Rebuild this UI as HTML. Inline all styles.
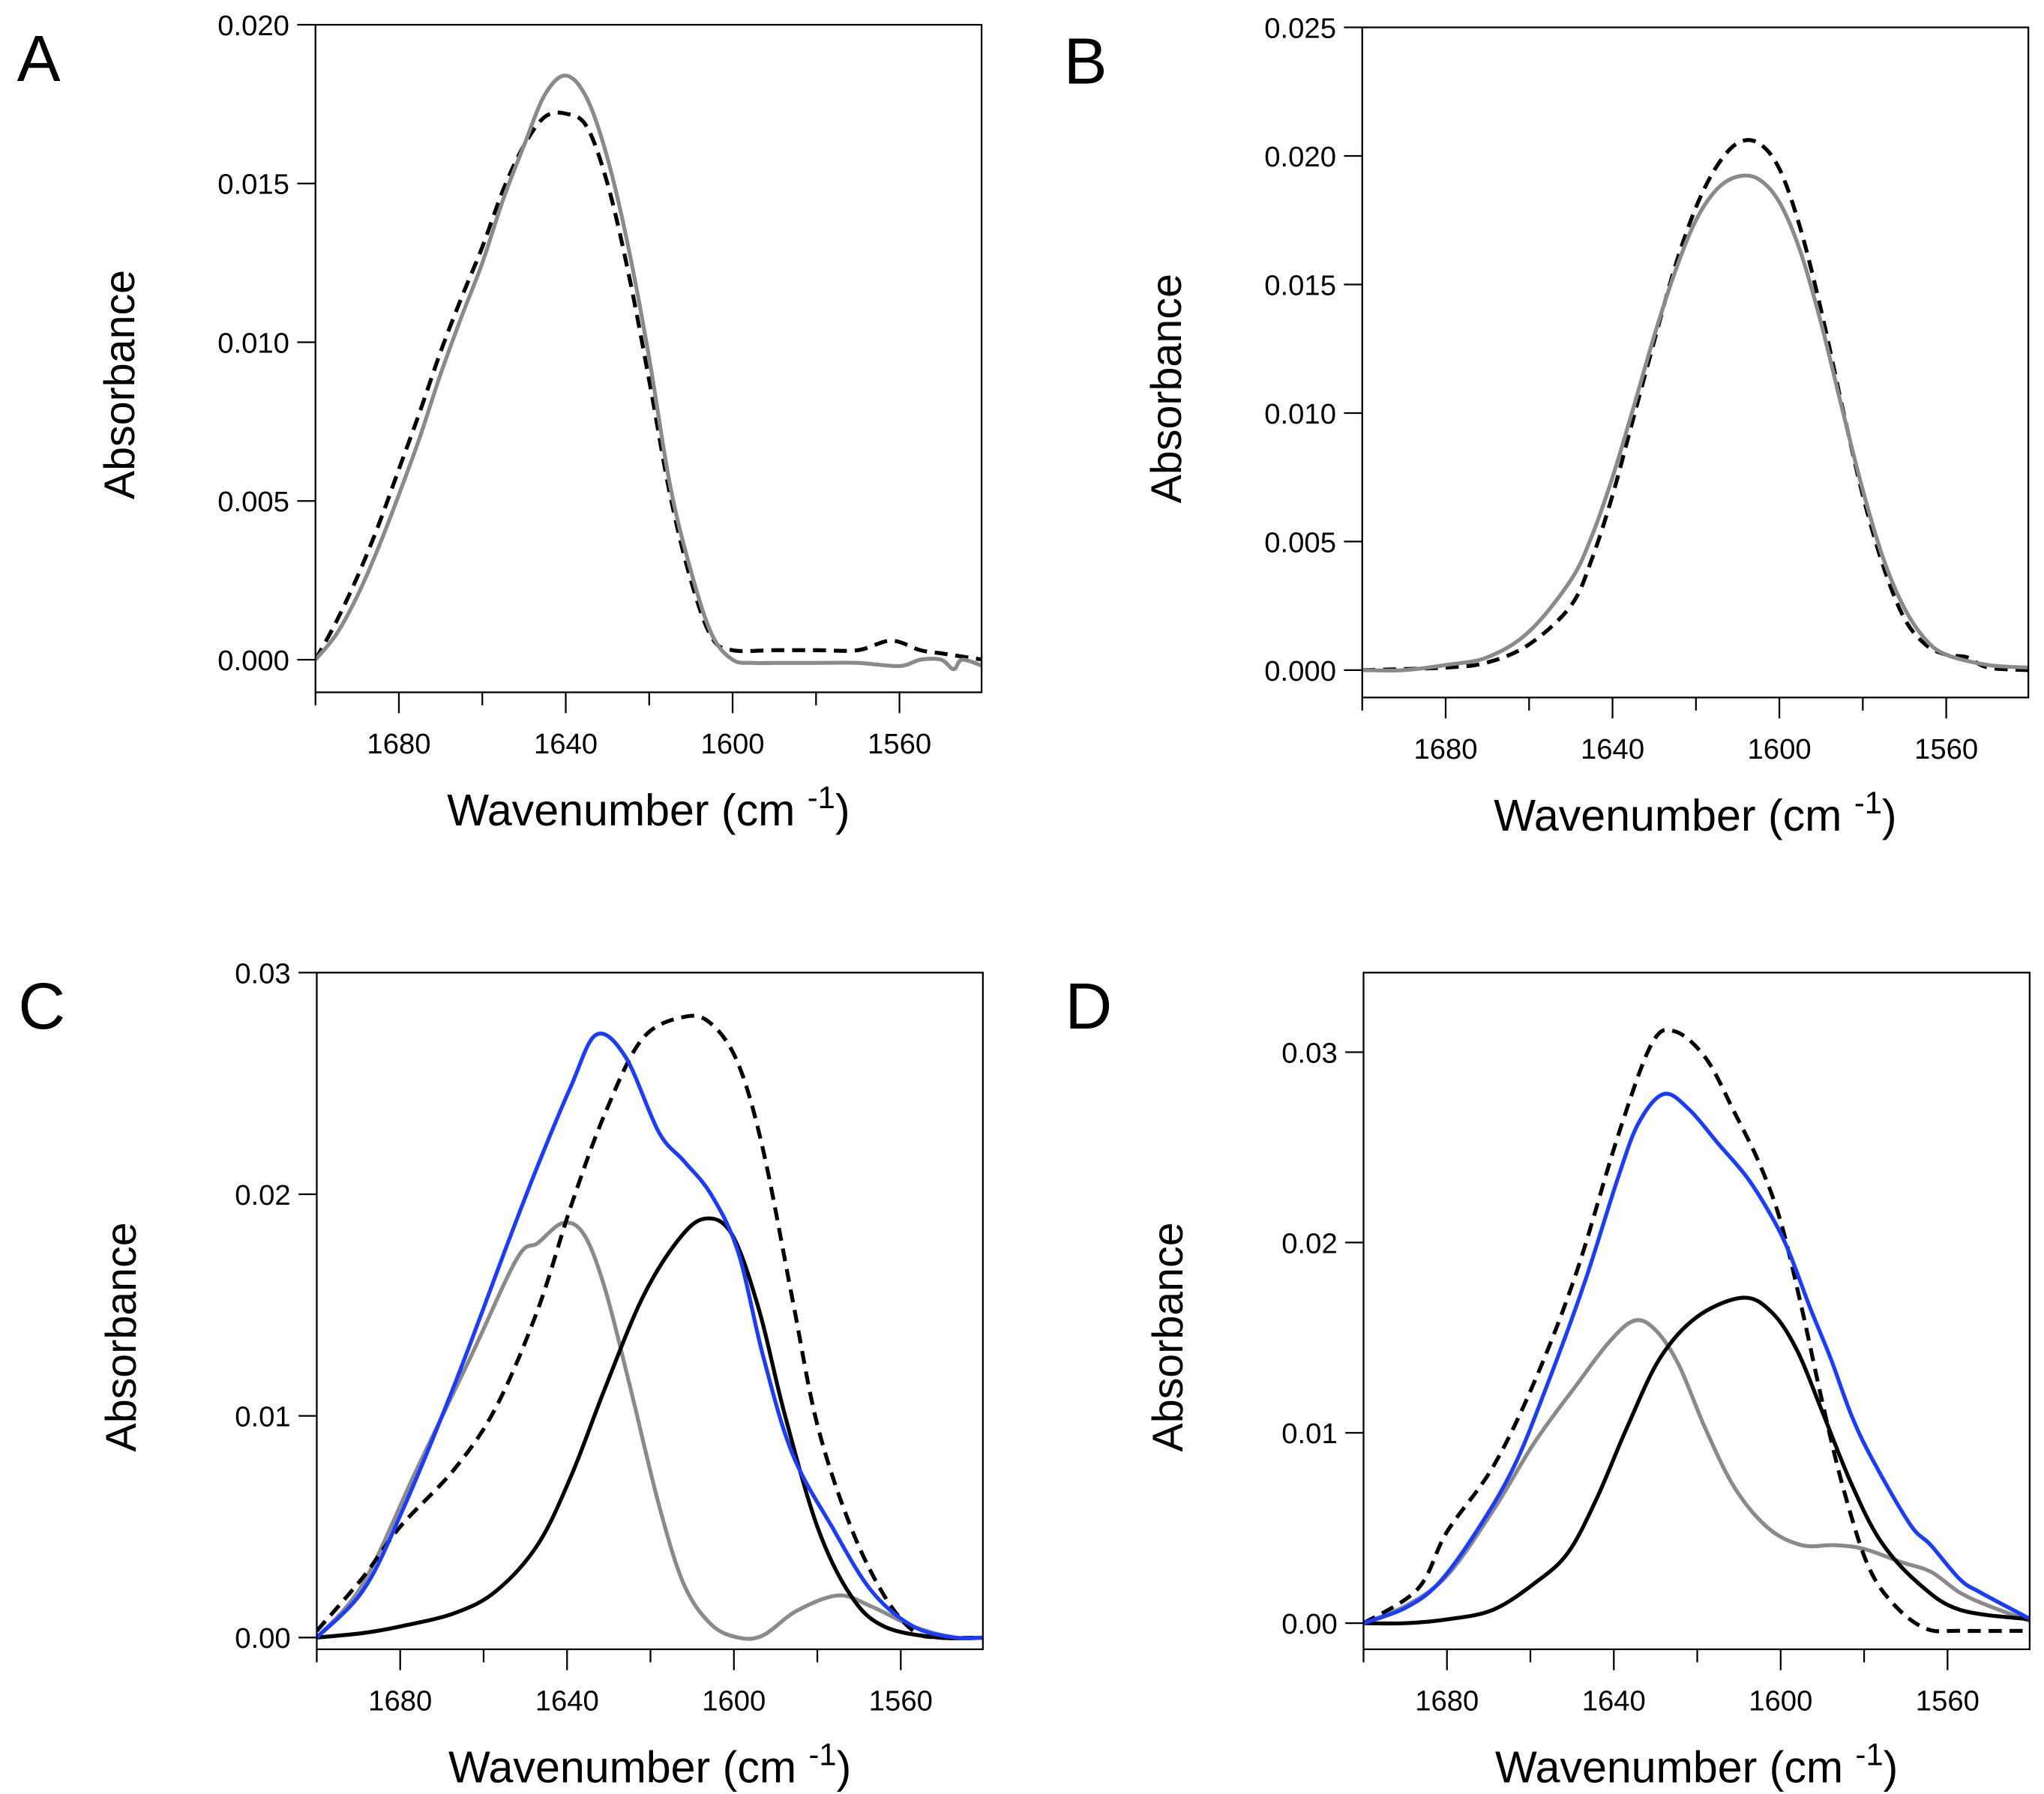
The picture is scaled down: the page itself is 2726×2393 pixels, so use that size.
<!DOCTYPE html>
<html><head><meta charset="utf-8"><style>
html,body{margin:0;padding:0;background:#fff}
svg{display:block}
text{font-family:"Liberation Sans",Arial,sans-serif;fill:#000}
</style></head><body>
<svg id="fig" width="2726" height="2393" viewBox="0 0 1568 1376" preserveAspectRatio="none" xmlns="http://www.w3.org/2000/svg"></svg>
<script>
// ---- data (wavenumber cm-1, absorbance) ----
const aGrayX=[1700,1695,1690,1685,1680,1675,1670,1665,1660,1655,1650,1645,1640,1635,1630,1625,1620,1615,1610,1605,1600,1595,1590,1580,1570,1560,1555,1550,1547,1545,1540];
const aGrayY=[0,0.0008,0.002,0.0035,0.0052,0.007,0.009,0.0108,0.0125,0.0145,0.0162,0.0178,0.0184,0.0177,0.0158,0.013,0.0095,0.0055,0.0028,0.0008,0,-0.0001,-0.0001,-0.0001,-0.0001,-0.0002,0,0,-0.0003,0,-0.0002];
const aDashX=[1700,1695,1690,1685,1680,1675,1670,1665,1660,1655,1650,1645,1640,1635,1630,1625,1620,1615,1610,1605,1600,1590,1580,1570,1562,1555,1550,1540];
const aDashY=[0,0.0012,0.0026,0.0042,0.006,0.0078,0.0097,0.0114,0.013,0.0148,0.0162,0.0171,0.0172,0.0168,0.015,0.0122,0.0088,0.0052,0.0025,0.0007,0.0003,0.0003,0.0003,0.0003,0.0006,0.0003,0.0002,0];
const bGrayX=[1700,1690,1680,1670,1660,1650,1645,1640,1635,1630,1625,1620,1615,1610,1605,1600,1595,1590,1585,1580,1575,1570,1565,1560,1550,1540];
const bGrayY=[0,0,0.0002,0.0005,0.0015,0.0035,0.0052,0.0075,0.0102,0.013,0.0155,0.0175,0.0187,0.0192,0.0191,0.0182,0.0163,0.0135,0.0102,0.007,0.0043,0.0024,0.0012,0.0006,0.0002,0.0001];
const bDashX=[1700,1680,1670,1660,1650,1645,1640,1635,1630,1625,1620,1615,1610,1605,1600,1595,1590,1585,1580,1575,1570,1565,1560,1555,1550,1540];
const bDashY=[0,0.0001,0.0003,0.001,0.0025,0.0043,0.0068,0.0098,0.0128,0.0157,0.018,0.0196,0.0205,0.0205,0.0195,0.0172,0.014,0.0103,0.0068,0.004,0.002,0.001,0.0006,0.0005,0.0001,0];
const cBlueX=[1700,1689,1680,1667,1654,1647,1639,1633,1626,1618,1612,1605.5,1599,1593,1586,1576.5,1567,1557,1547,1540];
const cBlueY=[0,0.0021,0.0055,0.0114,0.0179,0.0213,0.0249,0.0272,0.0262,0.0228,0.0215,0.02,0.0174,0.0127,0.0083,0.005,0.0021,0.0005,0,0];
const cDashX=[1700,1689,1680,1667,1657,1647,1639,1631,1622,1612,1605.5,1599,1593,1586,1580,1572,1564,1557,1551,1540];
const cDashY=[0.0003,0.0027,0.005,0.0076,0.0104,0.0148,0.0195,0.0236,0.027,0.028,0.0277,0.0259,0.022,0.0153,0.0096,0.005,0.0019,0.0003,0,0];
const cGrayX=[1700,1689,1676,1663,1652,1647,1641,1636,1631,1625,1618,1612,1605.5,1599,1593,1585,1575,1567,1557,1547,1540];
const cGrayY=[0,0.0024,0.0076,0.0127,0.0171,0.0178,0.0187,0.0182,0.0158,0.0114,0.006,0.0024,0.0006,0,0.0001,0.0012,0.0019,0.0014,0.0005,0,0];
const cBlackX=[1700,1689,1680,1667,1657,1647,1639,1631,1622,1613.5,1607,1600.5,1594,1588,1580,1572,1564,1551,1539];
const cBlackY=[0,0.0002,0.0005,0.0011,0.0021,0.0042,0.0073,0.0112,0.0153,0.0179,0.0189,0.0182,0.0148,0.0102,0.005,0.0019,0.0005,0,0];
const dDashX=[1700,1687,1680,1669,1659,1649,1639,1631,1625.5,1618,1611,1605,1600,1595,1590,1585,1579,1572.5,1565,1557,1540];
const dDashY=[0,0.0018,0.0048,0.0082,0.0127,0.0184,0.0256,0.0304,0.0311,0.0297,0.0268,0.0241,0.0211,0.0166,0.0116,0.0071,0.003,0.0009,-0.0003,-0.0004,-0.0004];
const dBlueX=[1700,1690,1682,1673,1664,1656,1647,1639,1634,1628,1622,1615,1608,1602,1598,1593,1588,1583,1578,1569,1564,1557,1552,1540];
const dBlueY=[0,0.0008,0.0021,0.0048,0.0082,0.0125,0.0179,0.0234,0.0263,0.0278,0.027,0.0252,0.0234,0.0213,0.0195,0.0166,0.0139,0.0109,0.0086,0.0052,0.0041,0.0023,0.0016,0.0002];
const dGrayX=[1700,1690,1680,1669,1659,1649,1641,1635,1630,1624.5,1618,1611,1603,1595,1587,1580,1571,1564,1557,1550,1540];
const dGrayY=[0,0.0009,0.0025,0.0059,0.0095,0.0125,0.0148,0.0159,0.0154,0.0136,0.0102,0.0071,0.005,0.0041,0.0041,0.0039,0.0032,0.0027,0.0016,0.0009,0.0001];
const dBlackX=[1700,1690,1680,1669,1659,1651,1644,1637,1629,1620,1609,1602,1596,1590,1583,1576,1567,1557,1540];
const dBlackY=[0,0,0.0002,0.0007,0.0021,0.0037,0.0066,0.0102,0.0139,0.0161,0.0171,0.0163,0.0143,0.0111,0.0073,0.0043,0.0021,0.0007,0.0002];
const xTickLabels=[1680,1640,1600,1560];
const xMinorTicks=[1660,1620,1580];
const abTicks=[0,0.005,0.010,0.015,0.020];
const bTicks=[0,0.005,0.010,0.015,0.020,0.025];
const cdTicks=[0,0.01,0.02,0.03];

const NS="http://www.w3.org/2000/svg";
const svg=document.getElementById('fig');
function mk(tag,attrs,parent){const e=document.createElementNS(NS,tag);for(const k in attrs)e.setAttribute(k,attrs[k]);(parent||svg).appendChild(e);return e;}

const panels=[
 {id:'a',letter:'A',L:242,R:753,T:19,B:531,y0:506,yPer:121.75/0.005,ticks:abTicks,dec:3,
  series:[[aDashX,aDashY,'#000',true],[aGrayX,aGrayY,'#8a8a8a',false]]},
 {id:'b',letter:'B',L:1045,R:1556,T:21,B:535,y0:514,yPer:98.6/0.005,ticks:bTicks,dec:3,
  series:[[bDashX,bDashY,'#000',true],[bGrayX,bGrayY,'#8a8a8a',false]]},
 {id:'c',letter:'C',L:243,R:754,T:746,B:1265,y0:1256,yPer:170/0.01,ticks:cdTicks,dec:2,
  series:[[cGrayX,cGrayY,'#8a8a8a',false],[cBlackX,cBlackY,'#000',false],[cDashX,cDashY,'#000',true],[cBlueX,cBlueY,'#1a3cff',false]]},
 {id:'d',letter:'D',L:1046,R:1557,T:746,B:1265,y0:1245,yPer:146/0.01,ticks:cdTicks,dec:2,
  series:[[dGrayX,dGrayY,'#8a8a8a',false],[dBlackX,dBlackY,'#000',false],[dDashX,dDashY,'#000',true],[dBlueX,dBlueY,'#1a3cff',false]]}
];

function smooth(pts){
  let d='M'+pts[0][0].toFixed(2)+','+pts[0][1].toFixed(2);
  for(let i=0;i<pts.length-1;i++){
    const p0=pts[Math.max(0,i-1)],p1=pts[i],p2=pts[i+1],p3=pts[Math.min(pts.length-1,i+2)];
    const c1=[p1[0]+(p2[0]-p0[0])/6,p1[1]+(p2[1]-p0[1])/6];
    const c2=[p2[0]-(p3[0]-p1[0])/6,p2[1]-(p3[1]-p1[1])/6];
    d+=' C'+c1[0].toFixed(2)+','+c1[1].toFixed(2)+' '+c2[0].toFixed(2)+','+c2[1].toFixed(2)+' '+p2[0].toFixed(2)+','+p2[1].toFixed(2);
  }
  return d;
}

panels.forEach(p=>{
  const xs=w=>p.L+(1700-w)*3.2;
  const ys=v=>p.y0-v*p.yPer;
  const g=mk('g',{});
  
  
  const lt=mk('text',{x:p.L-229,y:p.T+43,'font-size':50},g);
  lt.textContent=p.letter;
  
  
  const cp=mk('clipPath',{id:'clip'+p.id},g);
  mk('rect',{x:p.L,y:p.T,width:p.R-p.L,height:p.B-p.T},cp);
  const sg=mk('g',{'clip-path':'url(#clip'+p.id+')'},g);
  p.series.forEach((s,i)=>{
    const pts=s[0].map((w,k)=>[xs(w),ys(s[1][k])]);
    const path=mk('path',{d:smooth(pts),fill:'none',stroke:s[2],'stroke-width':3,'stroke-linejoin':'round','stroke-dasharray':s[3]?'10,6':'none'},sg);
    
    
  });
  const box=mk('rect',{x:p.L,y:p.T,width:p.R-p.L,height:p.B-p.T,fill:'none',stroke:'#000','stroke-width':1.3},g);
  
  
  p.ticks.forEach(v=>{
    const y=ys(v);
    mk('line',{x1:p.L-14,x2:p.L,y1:y,y2:y,stroke:'#000','stroke-width':1.3},g);
    const t=mk('text',{x:p.L-20,y:y+8,'font-size':22,'text-anchor':'end'},g);
    t.textContent=v.toFixed(p.dec);
    
    
  });
  mk('line',{x1:p.L,x2:p.L,y1:p.B,y2:p.B+10,stroke:'#000','stroke-width':1.3},g);
  xTickLabels.forEach(w=>{
    const x=xs(w);
    mk('line',{x1:x,x2:x,y1:p.B,y2:p.B+16,stroke:'#000','stroke-width':1.3},g);
    const t=mk('text',{x:x,y:p.B+47,'font-size':22,'text-anchor':'middle'},g);
    t.textContent=w;
    
    
  });
  xMinorTicks.forEach(w=>{
    const x=xs(w);
    mk('line',{x1:x,x2:x,y1:p.B,y2:p.B+10,stroke:'#000','stroke-width':1.3},g);
  });
  const cx=(p.L+p.R)/2;
  const xt=mk('text',{x:cx,y:p.B+102,'font-size':34,'text-anchor':'middle'},g);
  xt.innerHTML='Wavenumber (cm <tspan dy="-13" font-size="24">-1</tspan><tspan dy="13">)</tspan>';
  
  
  const cy=(p.T+p.B)/2+20;
  const yt=mk('text',{x:0,y:0,'font-size':33,'text-anchor':'middle',transform:'translate('+(p.L-139)+','+cy+') rotate(-90)'},g);
  yt.textContent='Absorbance';
  
  
});
</script>
</body></html>
